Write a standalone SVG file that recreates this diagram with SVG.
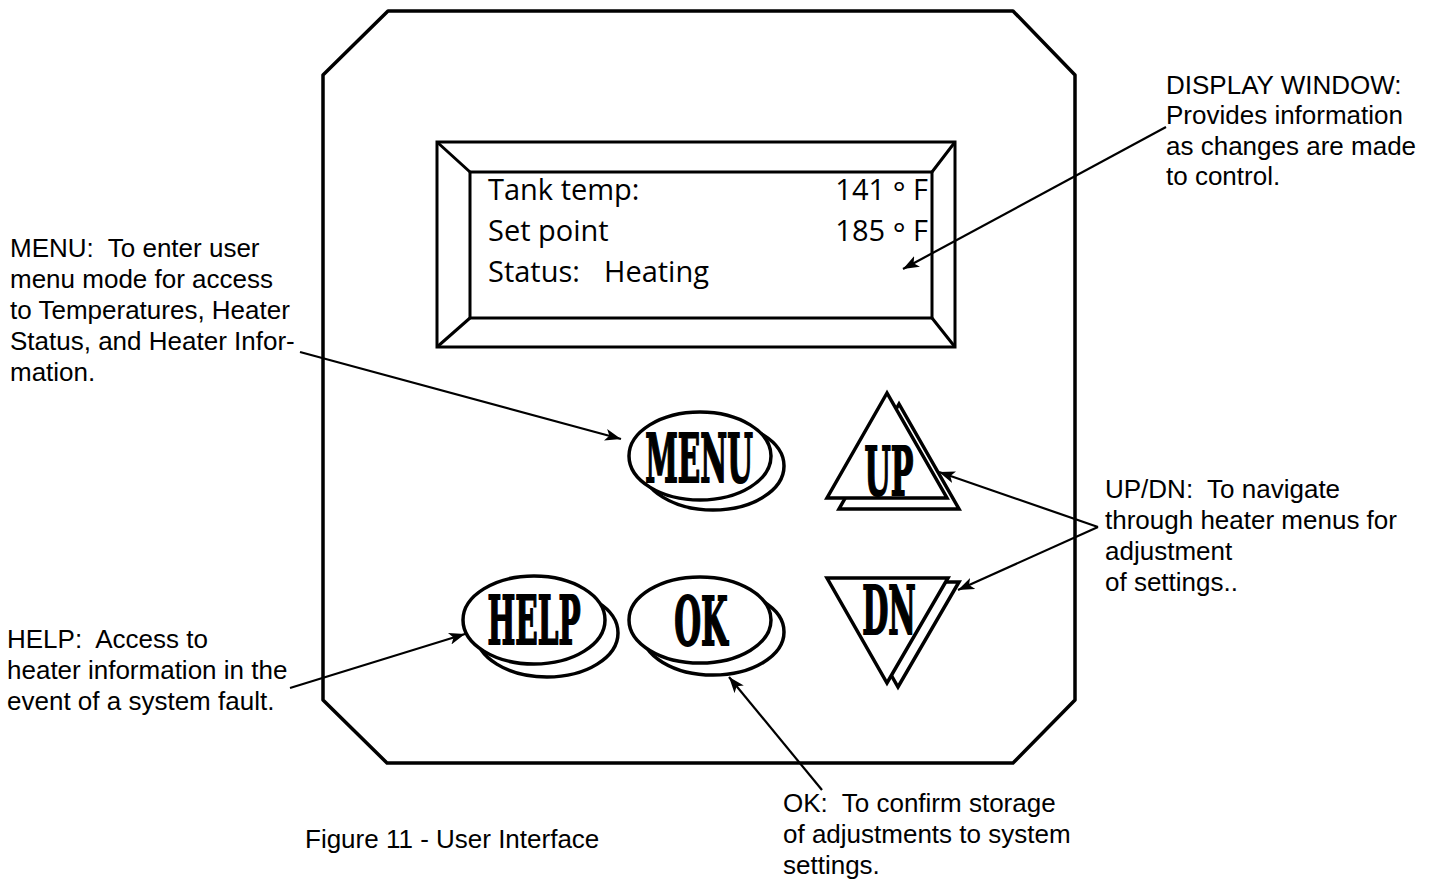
<svg xmlns="http://www.w3.org/2000/svg" width="1438" height="882" viewBox="0 0 1438 882">
<style>
.ln{fill:none;stroke:#000;stroke-width:3.5;stroke-linejoin:round}
.sh{fill:#fff;stroke:#000;stroke-width:3.5;stroke-linejoin:miter}
.disp{fill:none;stroke:#000;stroke-width:3}
.lcd{font-family:"Open Sans","Noto Sans",sans-serif;font-size:29px;fill:#000}
.deg{font-size:30px}
.lbl{font-family:"Liberation Sans",Arial,sans-serif;font-size:26px;fill:#000}
.btn{font-family:"DejaVu Serif","Liberation Serif",serif;font-weight:bold;font-size:67px;fill:#000;stroke:#000;stroke-width:2;text-anchor:middle}
.arr{fill:none;stroke:#000;stroke-width:2.2}
</style>
<defs>
<marker id="ah" markerUnits="userSpaceOnUse" markerWidth="18" markerHeight="12" refX="16" refY="6" orient="auto">
<path d="M0,0 L16,6 L0,12 L4,6 Z" fill="#000"/>
</marker>
</defs>
<rect width="1438" height="882" fill="#fff"/>
<g id="panel">
<polygon class="ln" points="388,11 1013,11 1075,75 1075,700 1013,763 387,763 323,700 323,75"/>
</g>
<g id="display">
<rect class="disp" x="437" y="142" width="518" height="205"/>
<rect class="disp" x="470" y="172" width="462" height="146"/>
<path class="disp" d="M437,142 L470,172 M955,142 L932,172 M437,347 L470,318 M955,347 L932,318"/>
<text class="lcd" x="488" y="200">Tank temp:</text>
<text class="lcd" x="488" y="241">Set point</text>
<text class="lcd" x="488" y="282">Status:<tspan x="604">Heating</tspan></text>
<text class="lcd" x="928" y="200" text-anchor="end" xml:space="preserve">141 <tspan class="deg" dy="3">°</tspan><tspan dy="-3"> F</tspan></text>
<text class="lcd" x="928" y="241" text-anchor="end" xml:space="preserve">185 <tspan class="deg" dy="3">°</tspan><tspan dy="-3"> F</tspan></text>
</g>
<g id="btn-menu">
<ellipse class="sh" cx="713" cy="466" rx="71" ry="44"/>
<ellipse class="sh" cx="700" cy="456" rx="71" ry="44"/>
<text class="btn" transform="translate(699,482) scale(0.44,1)">MENU</text>
</g>
<g id="btn-up">
<polygon class="sh" points="899,404 839,509 959,509"/>
<polygon class="sh" points="887,393 827,498 947,498"/>
<text class="btn" transform="translate(889,495) scale(0.45,1)">UP</text>
</g>
<g id="btn-dn">
<polygon class="sh" points="838,582 959,582 898,687"/>
<polygon class="sh" points="827,578 948,578 887,683"/>
<text class="btn" transform="translate(889,634) scale(0.45,1)">DN</text>
</g>
<g id="btn-help">
<ellipse class="sh" cx="547" cy="633" rx="71" ry="44"/>
<ellipse class="sh" cx="534" cy="620" rx="71" ry="44"/>
<text class="btn" transform="translate(534,644) scale(0.44,1)">HELP</text>
</g>
<g id="btn-ok">
<ellipse class="sh" cx="713" cy="632" rx="71" ry="43"/>
<ellipse class="sh" cx="700" cy="620" rx="71" ry="43"/>
<text class="btn" transform="translate(701,645) scale(0.46,1)">OK</text>
</g>
<g id="connectors">
<line class="arr" x1="300" y1="352" x2="621" y2="439" marker-end="url(#ah)"/>
<line class="arr" x1="290" y1="688" x2="465" y2="634" marker-end="url(#ah)"/>
<line class="arr" x1="822" y1="790" x2="729" y2="677" marker-end="url(#ah)"/>
<line class="arr" x1="1098" y1="527" x2="939" y2="472" marker-end="url(#ah)"/>
<line class="arr" x1="1098" y1="527" x2="958" y2="590" marker-end="url(#ah)"/>
<line class="arr" x1="1166" y1="127" x2="903" y2="269" marker-end="url(#ah)"/>
</g>
<g id="label-display" class="lbl">
<text x="1166" y="94">DISPLAY WINDOW:</text>
<text x="1166" y="124">Provides information</text>
<text x="1166" y="155">as changes are made</text>
<text x="1166" y="185">to control.</text>
</g>
<g id="label-menu" class="lbl">
<text x="10" y="257" xml:space="preserve">MENU:  To enter user</text>
<text x="10" y="288">menu mode for access</text>
<text x="10" y="319">to Temperatures, Heater</text>
<text x="10" y="350">Status, and Heater Infor-</text>
<text x="10" y="381">mation.</text>
</g>
<g id="label-help" class="lbl">
<text x="7" y="648" xml:space="preserve">HELP:  Access to</text>
<text x="7" y="679">heater information in the</text>
<text x="7" y="710">event of a system fault.</text>
</g>
<g id="label-updn" class="lbl">
<text x="1105" y="498" xml:space="preserve">UP/DN:  To navigate</text>
<text x="1105" y="529">through heater menus for</text>
<text x="1105" y="560">adjustment</text>
<text x="1105" y="591">of settings..</text>
</g>
<g id="label-ok" class="lbl">
<text x="783" y="812" xml:space="preserve">OK:  To confirm storage</text>
<text x="783" y="843">of adjustments to system</text>
<text x="783" y="874">settings.</text>
</g>
<g id="caption" class="lbl">
<text x="305" y="848">Figure 11 - User Interface</text>
</g>
</svg>
